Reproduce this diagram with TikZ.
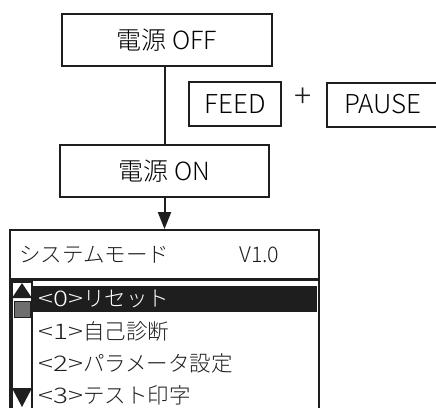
\documentclass[tikz,border=0pt]{standalone}
\usepackage{fontspec}
\setmainfont{Noto Sans CJK JP}[UprightFont={* Light}]
\usetikzlibrary{arrows.meta,positioning}
\definecolor{ink}{RGB}{30,30,30}
\definecolor{thumb}{RGB}{110,110,110}
\newcommand{\keyno}[1]{\scalebox{1.3}[1]{#1}}

\begin{document}
\begin{tikzpicture}[x=1pt,y=-1pt,>=Stealth,
  b/.style={draw=ink,line width=2pt,minimum height=52pt,inner sep=0pt,
            font=\fontsize{25}{30}\selectfont},
  k/.style={draw=ink,line width=2pt,minimum height=44pt,inner sep=0pt,
            font=\fontsize{26}{30}\selectfont},
  item/.style={anchor=west,inner sep=0pt,text=ink,
            font=\fontsize{21.5}{25}\selectfont}]
  \clip (0,0) rectangle (436,407);
  \node[b,minimum width=210pt] (off) at (167,40) {電源 OFF};
  \node[b,minimum width=209pt] (on) at (164.5,171) {電源 ON};
  \node[k,minimum width=92pt] (feed) at (235,104) {FEED};
  \node[font=\fontsize{32}{36}\selectfont,text=ink] (plus) at (303.5,98) {+};
  \node[k,minimum width=112pt] (pause) at (383,104.5) {PAUSE};
  \node[draw=ink,line width=1.8pt,minimum width=309pt,minimum height=200pt]
       (sys) at (164.5,330) {};
  \draw[ink,line width=2pt] (on.north) -- (on.north |- off.south);
  \draw[ink,line width=2pt,-{Triangle[length=17pt,width=13pt]}]
       (on.south) -- (on.south |- sys.north);
  \node[item] (title) at (19,255) {システムモード};
  \node[item] (ver) at (239,255) {V1.0};
  \draw[ink,line width=2.2pt] (10,279.5) -- (319,279.5);
  \fill[ink] (32,286) rectangle (317,312);
  \node[item,text=white] (i0) at (38,299) {\keyno{<0>}リセット};
  \node[item] (i1) at (38,331) {\keyno{<1>}自己診断};
  \node[item] (i2) at (38,363) {\keyno{<2>}パラメータ設定};
  \node[item] (i3) at (38,395) {\keyno{<3>}テスト印字};
  \draw[ink,line width=1.6pt] (12,420) |- (32,282) -- (32,420);
  \fill[ink] (22,283) -- (32,298) -- (12,298) -- cycle;
  \draw[ink,fill=thumb,line width=1pt] (14,301) rectangle (30,317);
  \fill[ink] (12,388) -- (32,388) -- (22,407) -- cycle;
\end{tikzpicture}
\end{document}
